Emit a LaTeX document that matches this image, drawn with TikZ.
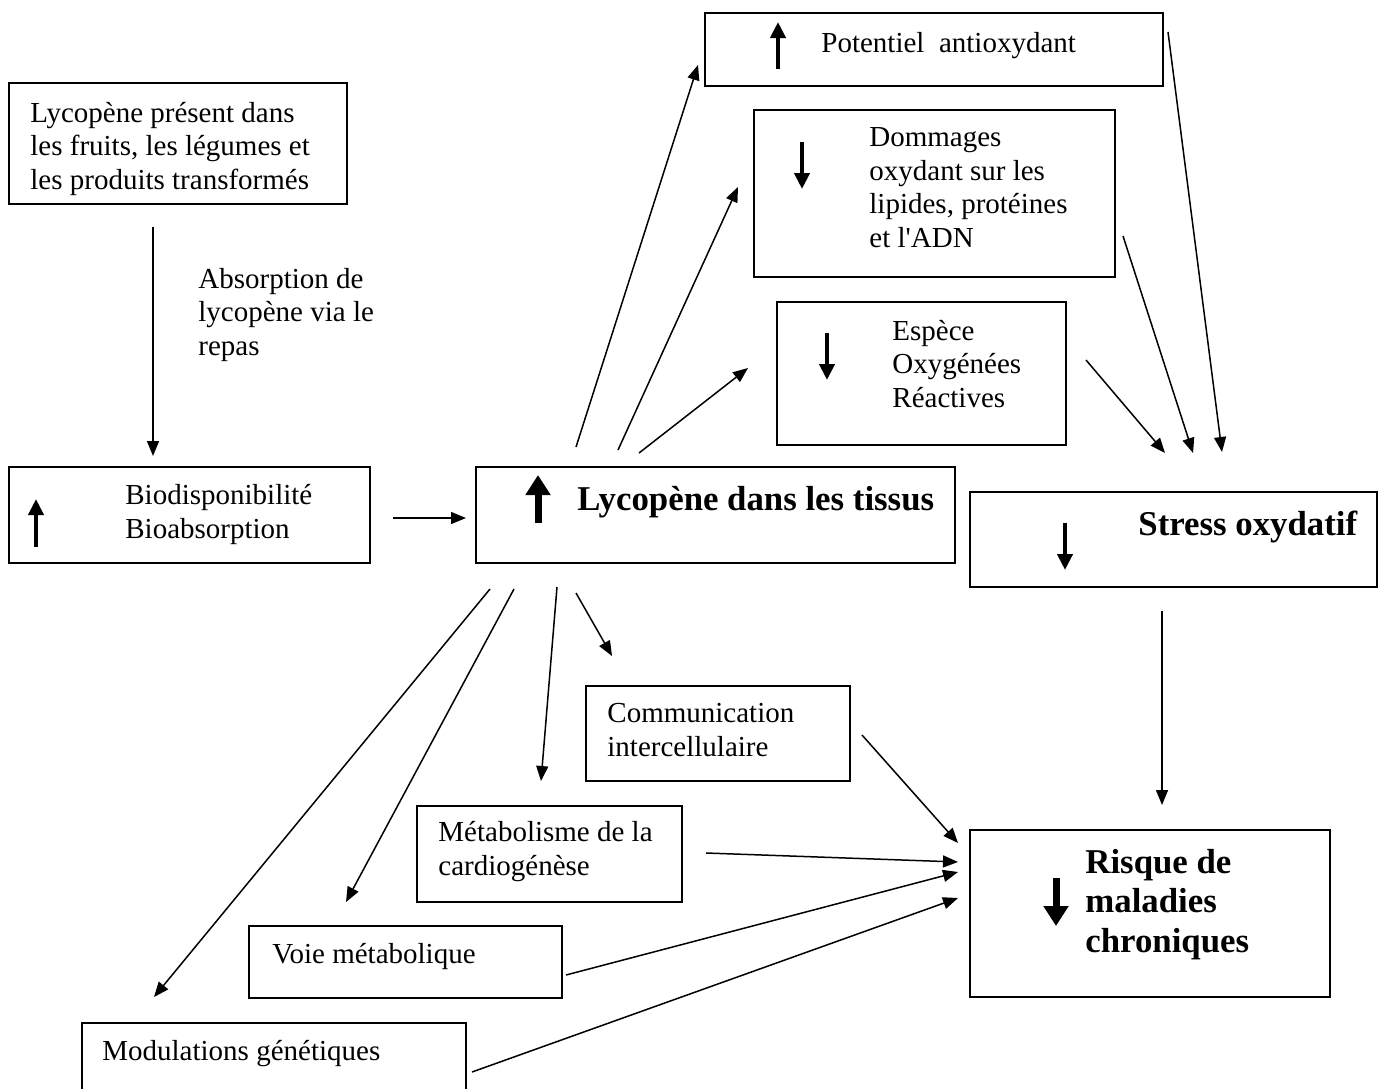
\documentclass[tikz,border=0pt]{standalone}
\usepackage{fontspec}
\setmainfont{Liberation Serif}
\newfontfamily\plainserif{Liberation Serif}
\usetikzlibrary{arrows.meta,fit}
\newcommand{\normtxt}{\fontsize{14.5pt}{16.75pt}\selectfont}
\newcommand{\boldtxt}{\fontsize{17.4pt}{19.75pt}\selectfont\bfseries}
\newcommand{\straightapos}{{\plainserif '}}
\tikzset{
  box/.style={draw, line width=1pt, inner sep=0pt},
  txt/.style={inner sep=0pt, anchor=base west, align=left, font=\normtxt},
  btxt/.style={inner sep=0pt, anchor=base west, align=left, font=\boldtxt},
  conn/.style={line width=0.75pt, -{Triangle[length=7.5pt,width=6pt]}},
  fatarrow/.style={line width=2.2pt, -{Triangle[length=8pt,width=7.5pt]}},
  hugearrow/.style={line width=3.5pt, -{Triangle[length=10pt,width=12pt]}}
}
\begin{document}
\begin{tikzpicture}[x=0.5pt,y=-0.5pt]
\useasboundingbox[fill=white] (0,0) rectangle (1386,1088);
\begin{scope}
\clip (0,0) rectangle (1386,1088);
% boxes
\node[box, fit={(9,83)(347,204)}] (src) {};
\node[box, fit={(9,467)(370,563)}] (bio) {};
\node[box, fit={(476,467)(955,563)}] (lyc) {};
\node[box, fit={(970,492)(1377,587)}] (stress) {};
\node[box, fit={(705,13)(1163,86)}] (pot) {};
\node[box, fit={(754,110)(1115,277)}] (dom) {};
\node[box, fit={(777,302)(1066,445)}] (esp) {};
\node[box, fit={(586,686)(850,781)}] (com) {};
\node[box, fit={(417,806)(682,902)}] (met) {};
\node[box, fit={(249,926)(562,998)}] (voie) {};
\node[box, fit={(82,1023)(466,1110)}] (mod) {};
\node[box, fit={(970,830)(1330,997)}] (risk) {};
% texts (multi-line: anchored at the baseline of the last line)
\node[txt] (tsrc) at (30,189) {Lycopène présent dans\\les fruits, les légumes et\\les produits transformés};
\node[txt] (tabs) at (198,355) {Absorption de\\lycopène via le\\repas};
\node[txt] (tbio) at (125,538) {Biodisponibilité\\Bioabsorption};
\node[btxt] (tlyc) at (577,510) {Lycopène dans les tissus};
\node[btxt] (tstress) at (1138,535) {Stress oxydatif};
\node[txt] (tpot) at (821,52) {Potentiel\ \ antioxydant};
\node[txt] (tdom) at (869,247) {Dommages\\oxydant sur les\\lipides, protéines\\et l\straightapos ADN};
\node[txt] (tesp) at (892,407) {Espèce\\Oxygénées\\Réactives};
\node[txt] (tcom) at (607,756) {Communication\\intercellulaire};
\node[txt] (tmet) at (438,875) {Métabolisme de la\\cardiogénèse};
\node[txt] (tvoie) at (272,963) {Voie métabolique};
\node[txt] (tmod) at (102,1060) {Modulations génétiques};
\node[btxt] (trisk) at (1085,952) {Risque de\\maladies\\chroniques};
% thick indicator arrows
\coordinate (ubio1) at (36,547); \coordinate (ubio2) at (36,499);
\draw[fatarrow] (ubio1) -- (ubio2);
\coordinate (ulyc1) at (538,523); \coordinate (ulyc2) at (538,475);
\draw[hugearrow] (ulyc1) -- (ulyc2);
\coordinate (upot1) at (778,69); \coordinate (upot2) at (778,22);
\draw[fatarrow] (upot1) -- (upot2);
\coordinate (ddom1) at (802,142); \coordinate (ddom2) at (802,189);
\draw[fatarrow] (ddom1) -- (ddom2);
\coordinate (desp1) at (827,333); \coordinate (desp2) at (827,380);
\draw[fatarrow] (desp1) -- (desp2);
\coordinate (dstr1) at (1065,523); \coordinate (dstr2) at (1065,570);
\draw[fatarrow] (dstr1) -- (dstr2);
\coordinate (drisk1) at (1056,878); \coordinate (drisk2) at (1056,926);
\draw[hugearrow] (drisk1) -- (drisk2);
% connectors
\coordinate (c1a) at (153,227); \coordinate (c1b) at (153,456);
\draw[conn] (c1a) -- (c1b);
\coordinate (c2a) at (393,518); \coordinate (c2b) at (466,518);
\draw[conn] (c2a) -- (c2b);
\coordinate (c3a) at (576,447); \coordinate (c3b) at (698,65);
\draw[conn] (c3a) -- (c3b);
\coordinate (c4a) at (618,450); \coordinate (c4b) at (738,187);
\draw[conn] (c4a) -- (c4b);
\coordinate (c5a) at (639,453); \coordinate (c5b) at (748,368);
\draw[conn] (c5a) -- (c5b);
\coordinate (c6a) at (1168,32); \coordinate (c6b) at (1222,452);
\draw[conn] (c6a) -- (c6b);
\coordinate (c7a) at (1123,236); \coordinate (c7b) at (1193,453);
\draw[conn] (c7a) -- (c7b);
\coordinate (c8a) at (1086,360); \coordinate (c8b) at (1165,453);
\draw[conn] (c8a) -- (c8b);
\coordinate (c9a) at (1162,611); \coordinate (c9b) at (1162,805);
\draw[conn] (c9a) -- (c9b);
\coordinate (d1a) at (490,589); \coordinate (d1b) at (154,997);
\draw[conn] (d1a) -- (d1b);
\coordinate (d2a) at (514,589); \coordinate (d2b) at (346,902);
\draw[conn] (d2a) -- (d2b);
\coordinate (d3a) at (557,587); \coordinate (d3b) at (541,781);
\draw[conn] (d3a) -- (d3b);
\coordinate (d4a) at (576,593); \coordinate (d4b) at (612,656);
\draw[conn] (d4a) -- (d4b);
\coordinate (e1a) at (862,735); \coordinate (e1b) at (958,843);
\draw[conn] (e1a) -- (e1b);
\coordinate (e2a) at (706,853); \coordinate (e2b) at (958,862);
\draw[conn] (e2a) -- (e2b);
\coordinate (e3a) at (566,975); \coordinate (e3b) at (958,872);
\draw[conn] (e3a) -- (e3b);
\coordinate (e4a) at (472,1072); \coordinate (e4b) at (958,898);
\draw[conn] (e4a) -- (e4b);
\end{scope}
\end{tikzpicture}
\end{document}
